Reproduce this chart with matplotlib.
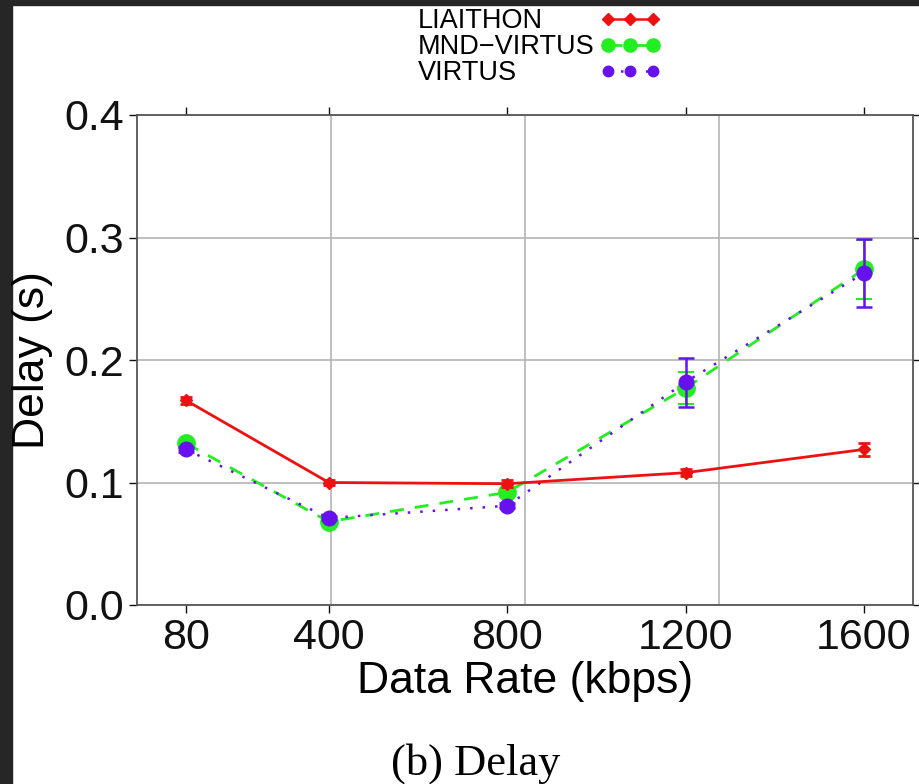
"""
Delay vs data rate (subfigure b)
"""
import matplotlib
matplotlib.use('Agg')
import matplotlib.pyplot as plt
from matplotlib.lines import Line2D
from matplotlib.patches import Rectangle
from matplotlib.ticker import FixedLocator

plt.rcParams['font.family'] = ['Liberation Sans', 'DejaVu Sans']

# data
rates = [80, 400, 800, 1200, 1600]
liaithon = [0.167, 0.100, 0.099, 0.108, 0.127]
liaithon_err = [0.003, 0.002, 0.003, 0.003, 0.005]
mnd_virtus = [0.132, 0.068, 0.092, 0.177, 0.274]
mnd_virtus_err = [0.002, 0.002, 0.003, 0.013, 0.024]
virtus = [0.127, 0.071, 0.081, 0.182, 0.271]
virtus_err = [0.002, 0.002, 0.002, 0.020, 0.028]

labels = ['LIAITHON', 'MND\u2212VIRTUS', 'VIRTUS']
c_red, c_green, c_blue = '#ee1111', '#22ee22', '#6611ee'

fig = plt.figure(figsize=(9.2, 7.84), dpi=100)
# dark screenshot border
fig.patches.append(Rectangle((0, 0), 12 / 920, 1, transform=fig.transFigure,
                             color='#262626', zorder=-10))
fig.patches.append(Rectangle((0, 1 - 5 / 784), 1, 5 / 784, transform=fig.transFigure,
                             color='#262626', zorder=-10))

ax = fig.add_axes([137 / 920, 1 - 605 / 784, 776 / 920, 490 / 784])

# MND-VIRTUS
ax.errorbar(rates, mnd_virtus, yerr=mnd_virtus_err, color=c_green, ls=(0, (5, 4)),
            lw=2.0, marker='o', ms=12.5, capsize=5.5, elinewidth=1.5, capthick=1.5, zorder=3)
# VIRTUS
ax.errorbar(rates, virtus, yerr=virtus_err, color=c_blue, ls=(0, (1, 4)),
            lw=1.8, marker='o', ms=10.5, capsize=5.5, elinewidth=1.8, capthick=1.8, zorder=4)
# LIAITHON
ax.errorbar(rates, liaithon, yerr=liaithon_err, color=c_red, ls='-',
            lw=2.0, marker='D', ms=6.5, capsize=4.5, elinewidth=1.5, capthick=2, zorder=5)

ax.set_xlim(-30, 1710)
ax.set_ylim(0, 0.4)
ax.set_xticks(rates)
ax.set_yticks([0.0, 0.1, 0.2, 0.3, 0.4])
ax.set_yticklabels(['0.0', '0.1', '0.2', '0.3', '0.4'])

# vertical grid lines split the axis in quarters (not at the ticks)
ax.xaxis.set_minor_locator(FixedLocator([405, 840, 1275]))
ax.grid(True, which='minor', axis='x', color='#b4b4b4', lw=1.2)
ax.grid(True, which='major', axis='y', color='#b4b4b4', lw=1.2)
ax.set_axisbelow(True)

ax.tick_params(which='major', direction='out', length=5.5, width=1.0,
               top=True, right=True, labelsize=31, pad=4, colors='#111111')
ax.tick_params(which='minor', length=0)
for sp in ax.spines.values():
    sp.set_color('#555555')
    sp.set_linewidth(1.3)

ax.set_xlabel('Data Rate (kbps)', fontsize=32, labelpad=2)
ax.set_ylabel('Delay (s)', fontsize=32)
ax.yaxis.set_label_coords(-0.108, 0.5)

handles = [
    Line2D([], [], color=c_red, ls='-', lw=1.8, marker='D', ms=6),
    Line2D([], [], color=c_green, ls=(0, (5, 4)), lw=2.0, marker='o', ms=9.5),
    Line2D([], [], color=c_blue, ls=(0, (1, 4)), lw=1.8, marker='o', ms=7.5),
]
leg = fig.legend(handles, labels, loc='lower right', bbox_to_anchor=(661 / 920, 1 - 86 / 784),
                 frameon=False, fontsize=19.5, markerfirst=False, numpoints=3,
                 handlelength=2.26, handletextpad=0.18, labelspacing=0.0,
                 borderpad=0, borderaxespad=0)

# legend labels are left aligned in the reference: shift shorter labels left
fig.canvas.draw()
renderer = fig.canvas.get_renderer()
widths = [t.get_window_extent(renderer).width for t in leg.texts]
for t, w in zip(leg.texts, widths):
    t.set_x(-(max(widths) - w))

fig.text(476 / 920, 1 - 775 / 784, '(b) Delay', fontsize=32, ha='center', va='baseline',
         family=['Liberation Serif', 'DejaVu Serif'])

fig.savefig('out.png', dpi=100)
